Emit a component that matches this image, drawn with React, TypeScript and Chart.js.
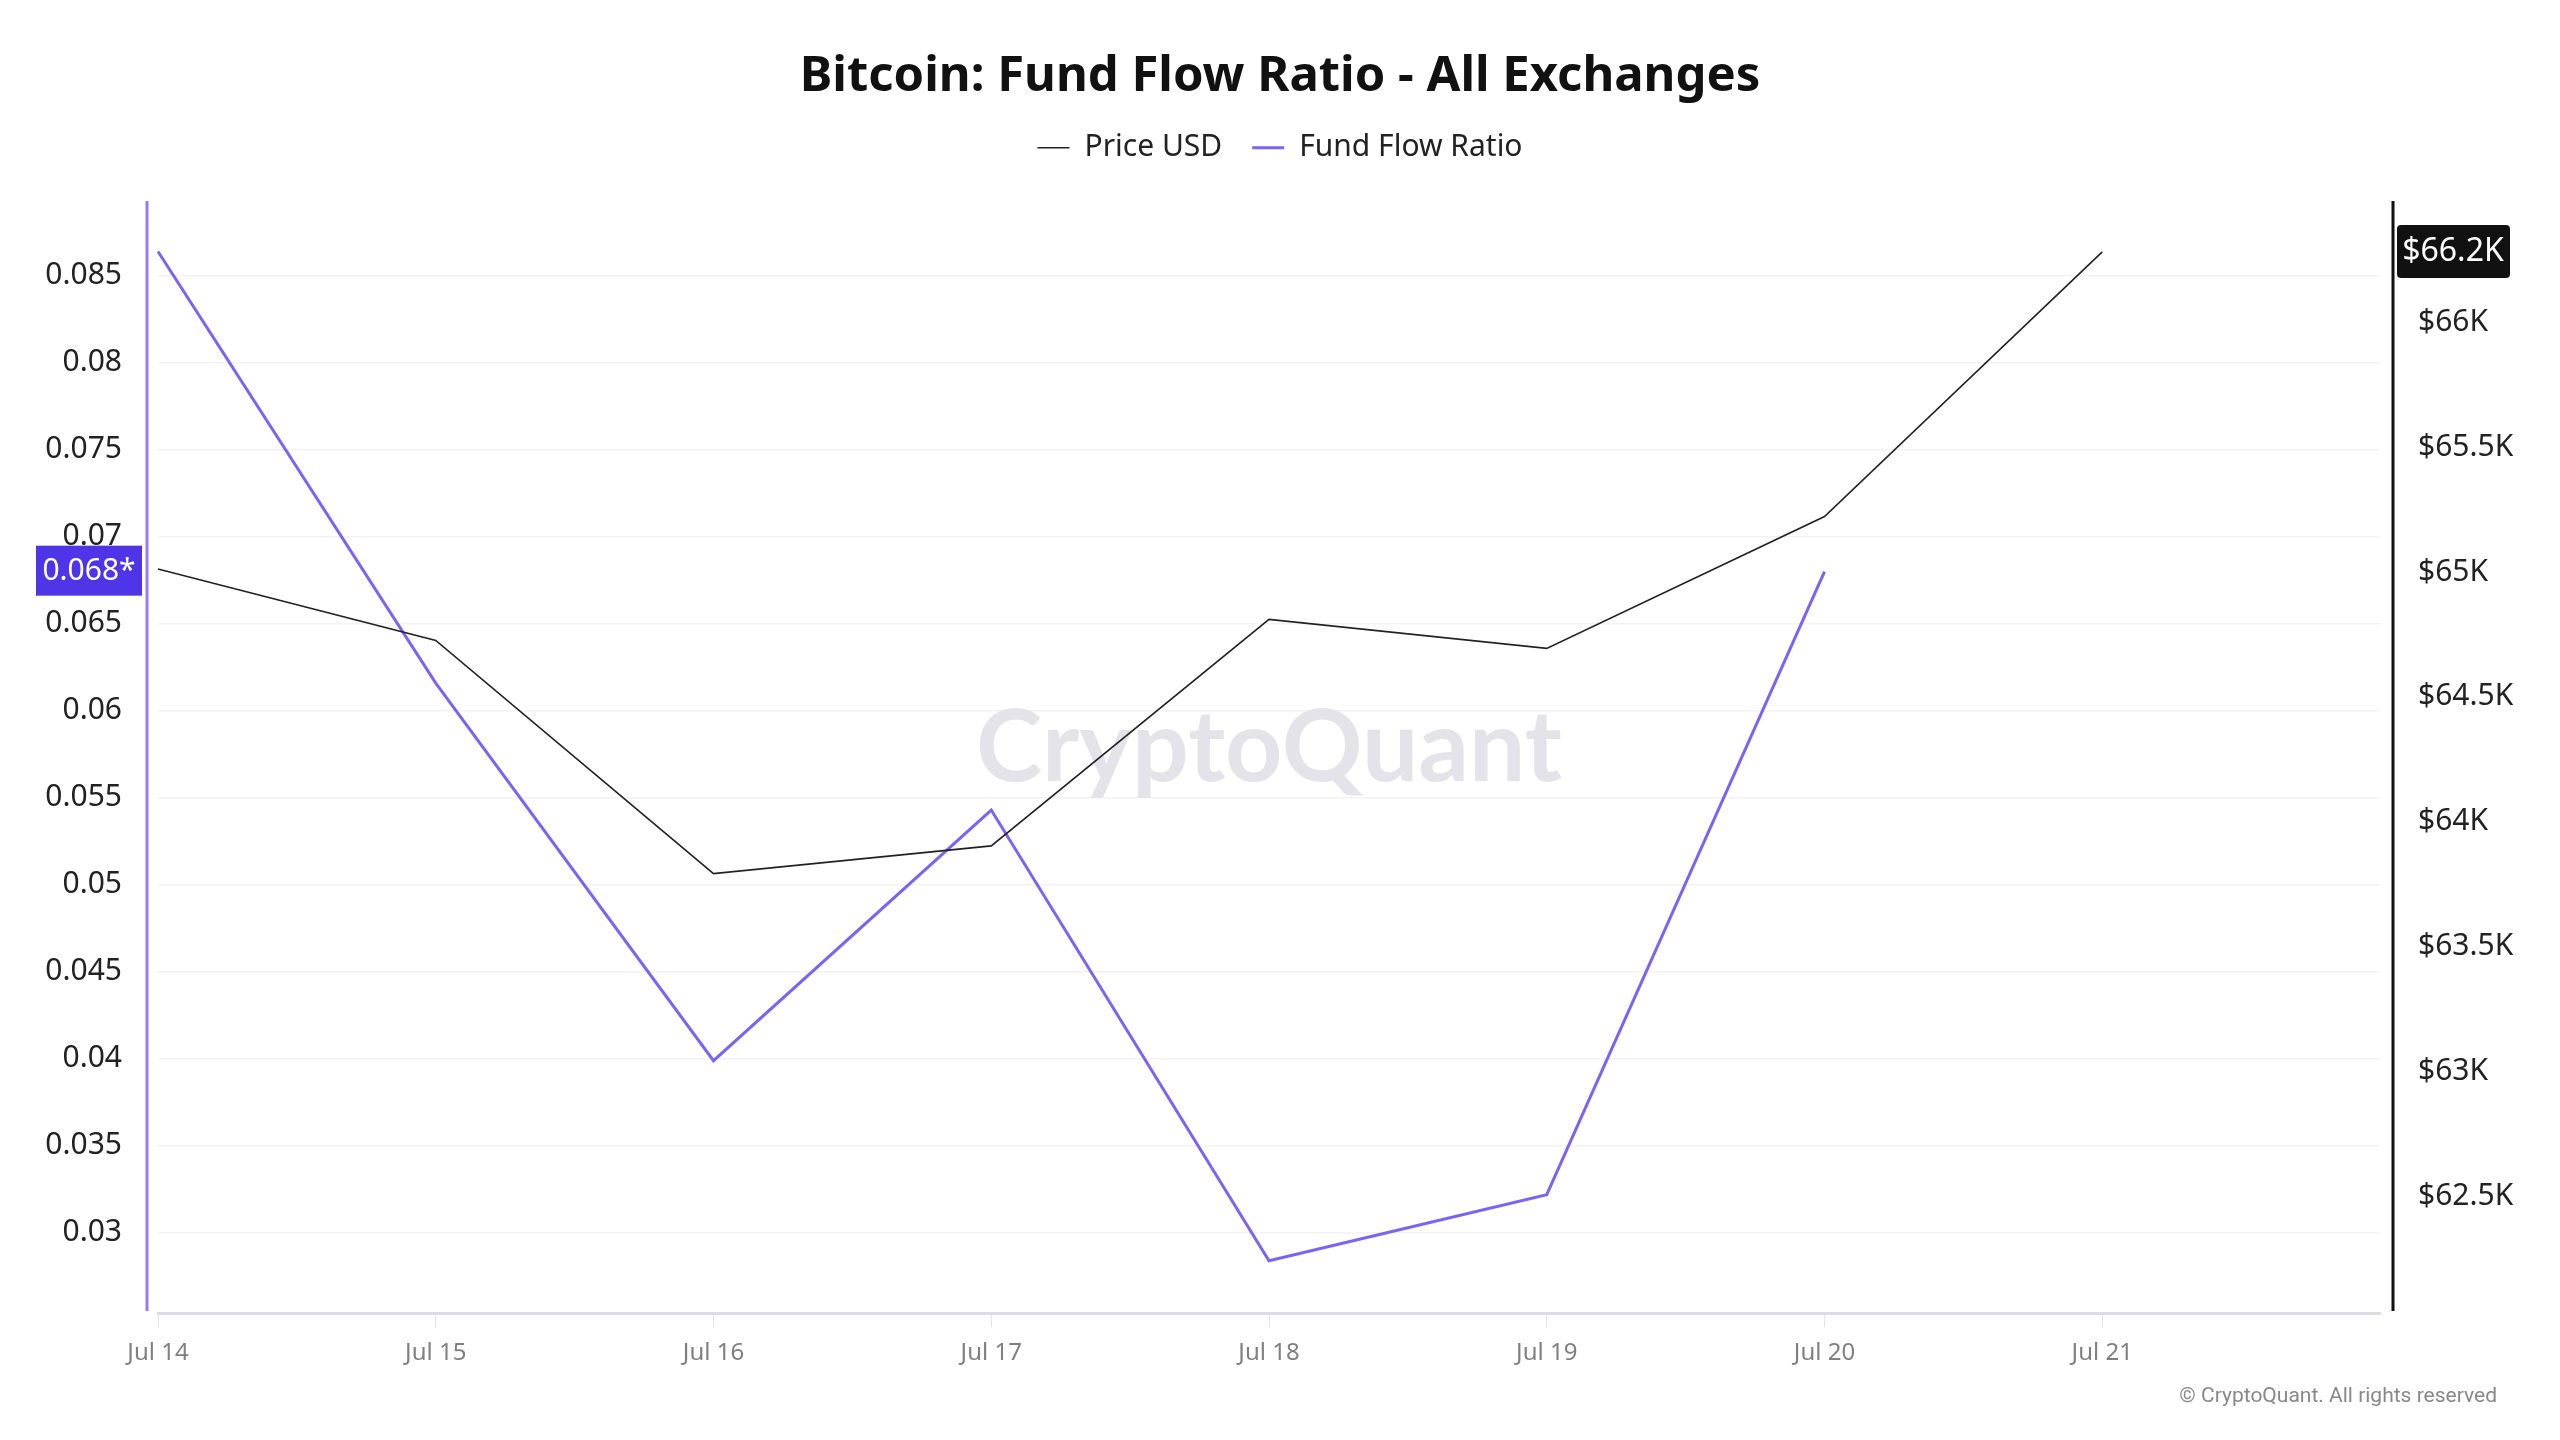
import React, { useEffect, useRef } from "react";
import { Chart, registerables } from "chart.js";

Chart.register(...registerables);

// Daily dates on the x axis (the last slot is left unlabelled as right padding)
const dateLabels = ["Jul 14", "Jul 15", "Jul 16", "Jul 17", "Jul 18", "Jul 19", "Jul 20", "Jul 21", "Jul 22"];

// BTC price in USD
const priceUSD = [65012, 64726, 63792, 63903, 64810, 64694, 65222, 66282];

// Exchange fund flow ratio
const fundFlowRatio = [0.0864, 0.0616, 0.0399, 0.0543, 0.0284, 0.0322, 0.068];

// Axis ticks
const ratioTicks = [0.03, 0.035, 0.04, 0.045, 0.05, 0.055, 0.06, 0.065, 0.07, 0.075, 0.08, 0.085];
const priceTicks = [62500, 63000, 63500, 64000, 64500, 65000, 65500, 66000];

const FONT = "'Noto Sans', 'Open Sans', sans-serif";
const RATIO_COLOR = "#7c63f4";
const PRICE_COLOR = "#222222";

const fmtRatio = (v: number) => String(Number(v.toFixed(3)));
// price shown in thousands, truncated to one decimal
const fmtPrice = (v: number) => "$" + String(Math.floor(Math.round(v) / 100) / 10) + "K";

const decorations = {
  id: "decorations",
  beforeDatasetsDraw(chart: any) {
    const { ctx, chartArea } = chart;
    ctx.save();
    ctx.fillStyle = "#e4e3ea";
    ctx.font = "bold 100px Lato, 'Noto Sans', sans-serif";
    ctx.textAlign = "center";
    ctx.textBaseline = "middle";
    ctx.fillText("CryptoQuant", (chartArea.left + chartArea.right) / 2, (chartArea.top + chartArea.bottom) / 2 - 8);
    ctx.restore();
  },
  afterDraw(chart: any) {
    const { ctx, chartArea, scales } = chart;
    ctx.save();
    // vertical axis lines
    ctx.lineWidth = 3;
    ctx.strokeStyle = "#8f7ef6";
    ctx.beginPath();
    ctx.moveTo(chartArea.left - 11, chartArea.top);
    ctx.lineTo(chartArea.left - 11, chartArea.bottom - 2);
    ctx.stroke();
    ctx.strokeStyle = "#111111";
    ctx.beginPath();
    ctx.moveTo(chartArea.right + 13, chartArea.top);
    ctx.lineTo(chartArea.right + 13, chartArea.bottom - 2);
    ctx.stroke();

    // last-value badge on the ratio axis
    const lastRatio = fundFlowRatio[fundFlowRatio.length - 1];
    const ry = scales.y.getPixelForValue(lastRatio);
    ctx.fillStyle = "#4f35e8";
    ctx.fillRect(chartArea.left - 122, ry - 26, 106, 50);
    ctx.fillStyle = "#ffffff";
    ctx.font = `30px ${FONT}`;
    ctx.textAlign = "center";
    ctx.textBaseline = "middle";
    ctx.fillText(fmtRatio(lastRatio) + "*", chartArea.left - 69, ry);

    // last-value badge on the price axis
    const lastPrice = priceUSD[priceUSD.length - 1];
    const py = scales.y1.getPixelForValue(lastPrice);
    ctx.fillStyle = "#111111";
    ctx.beginPath();
    (ctx as any).roundRect(chartArea.right + 17, py - 27, 113, 53, 4);
    ctx.fill();
    ctx.fillStyle = "#ffffff";
    ctx.font = `32px ${FONT}`;
    ctx.fillText(fmtPrice(lastPrice), chartArea.right + 73, py);

    // copyright
    ctx.fillStyle = "#888888";
    ctx.font = "21px Roboto, sans-serif";
    ctx.textAlign = "right";
    ctx.fillText("© CryptoQuant. All rights reserved", 2497, 1397);
    ctx.restore();
  },
};

export default function App() {
  const canvasRef = useRef<HTMLCanvasElement | null>(null);

  useEffect(() => {
    const canvas = canvasRef.current;
    if (!canvas) return;
    const chart = new Chart(canvas, {
      type: "line",
      data: {
        labels: dateLabels,
        datasets: [
          {
            label: "Price USD",
            data: priceUSD,
            yAxisID: "y1",
            borderColor: PRICE_COLOR,
            backgroundColor: PRICE_COLOR,
            borderWidth: 1.6,
            pointRadius: 0,
            tension: 0,
          },
          {
            label: "Fund Flow Ratio",
            data: fundFlowRatio,
            yAxisID: "y",
            borderColor: RATIO_COLOR,
            backgroundColor: RATIO_COLOR,
            borderWidth: 3,
            pointRadius: 0,
            tension: 0,
          },
        ],
      },
      options: {
        responsive: false,
        animation: false,
        layout: { padding: { left: 0, right: 0, top: 0, bottom: 0 } },
        plugins: {
          title: {
            display: true,
            text: "Bitcoin: Fund Flow Ratio - All Exchanges",
            color: "#111111",
            font: { family: FONT, size: 49, weight: "bold" },
            padding: { top: 48, bottom: -4 },
          },
          // empty spacer between the legend and the plot area
          subtitle: {
            display: true,
            text: "",
            weight: 500,
            font: { size: 1 },
            padding: { top: 0, bottom: 27 },
          },
          legend: {
            display: true,
            labels: {
              usePointStyle: true,
              pointStyle: "line",
              pointStyleWidth: 32,
              color: "#222222",
              font: { family: FONT, size: 30 },
              padding: 30,
            },
          },
          tooltip: { enabled: false },
        },
        scales: {
          x: {
            type: "category",
            offset: false,
            grid: { display: true, drawOnChartArea: false, drawTicks: true, tickLength: 14, color: "#e4e4e4" },
            border: { display: true, color: "#dcdce8", width: 3 },
            ticks: {
              color: "#808080",
              font: { family: FONT, size: 24 },
              padding: 12,
              maxRotation: 0,
              autoSkip: false,
              callback: (_v: any, i: number) => (i < dateLabels.length - 1 ? dateLabels[i] : null),
            },
            afterFit: (axis: any) => {
              axis.height = 127;
            },
          },
          y: {
            type: "linear",
            position: "left",
            min: 0.0254,
            max: 0.0893,
            grid: { color: "#f3f3f3", lineWidth: 1.5, drawTicks: false },
            border: { display: false },
            ticks: {
              color: "#222222",
              font: { family: FONT, size: 30 },
              padding: 36,
              callback: (v: any) => fmtRatio(Number(v)),
            },
            afterBuildTicks: (axis: any) => {
              axis.ticks = ratioTicks.map((value) => ({ value }));
            },
            afterFit: (axis: any) => {
              axis.width = 158;
            },
          },
          y1: {
            type: "linear",
            position: "right",
            min: 62032,
            max: 66486,
            grid: { display: false, drawOnChartArea: false },
            border: { display: false },
            ticks: {
              color: "#222222",
              font: { family: FONT, size: 30 },
              padding: 30,
              callback: (v: any) => fmtPrice(Number(v)),
            },
            afterBuildTicks: (axis: any) => {
              axis.ticks = priceTicks.map((value) => ({ value }));
            },
            afterFit: (axis: any) => {
              axis.width = 180;
            },
          },
        },
      },
      plugins: [decorations],
    });
    return () => chart.destroy();
  }, []);

  return (
    <div style={{ position: "fixed", left: 0, top: 0, width: 2560, height: 1440, background: "#ffffff" }}>
      <canvas ref={canvasRef} width={2560} height={1440} style={{ display: "block" }} />
    </div>
  );
}
